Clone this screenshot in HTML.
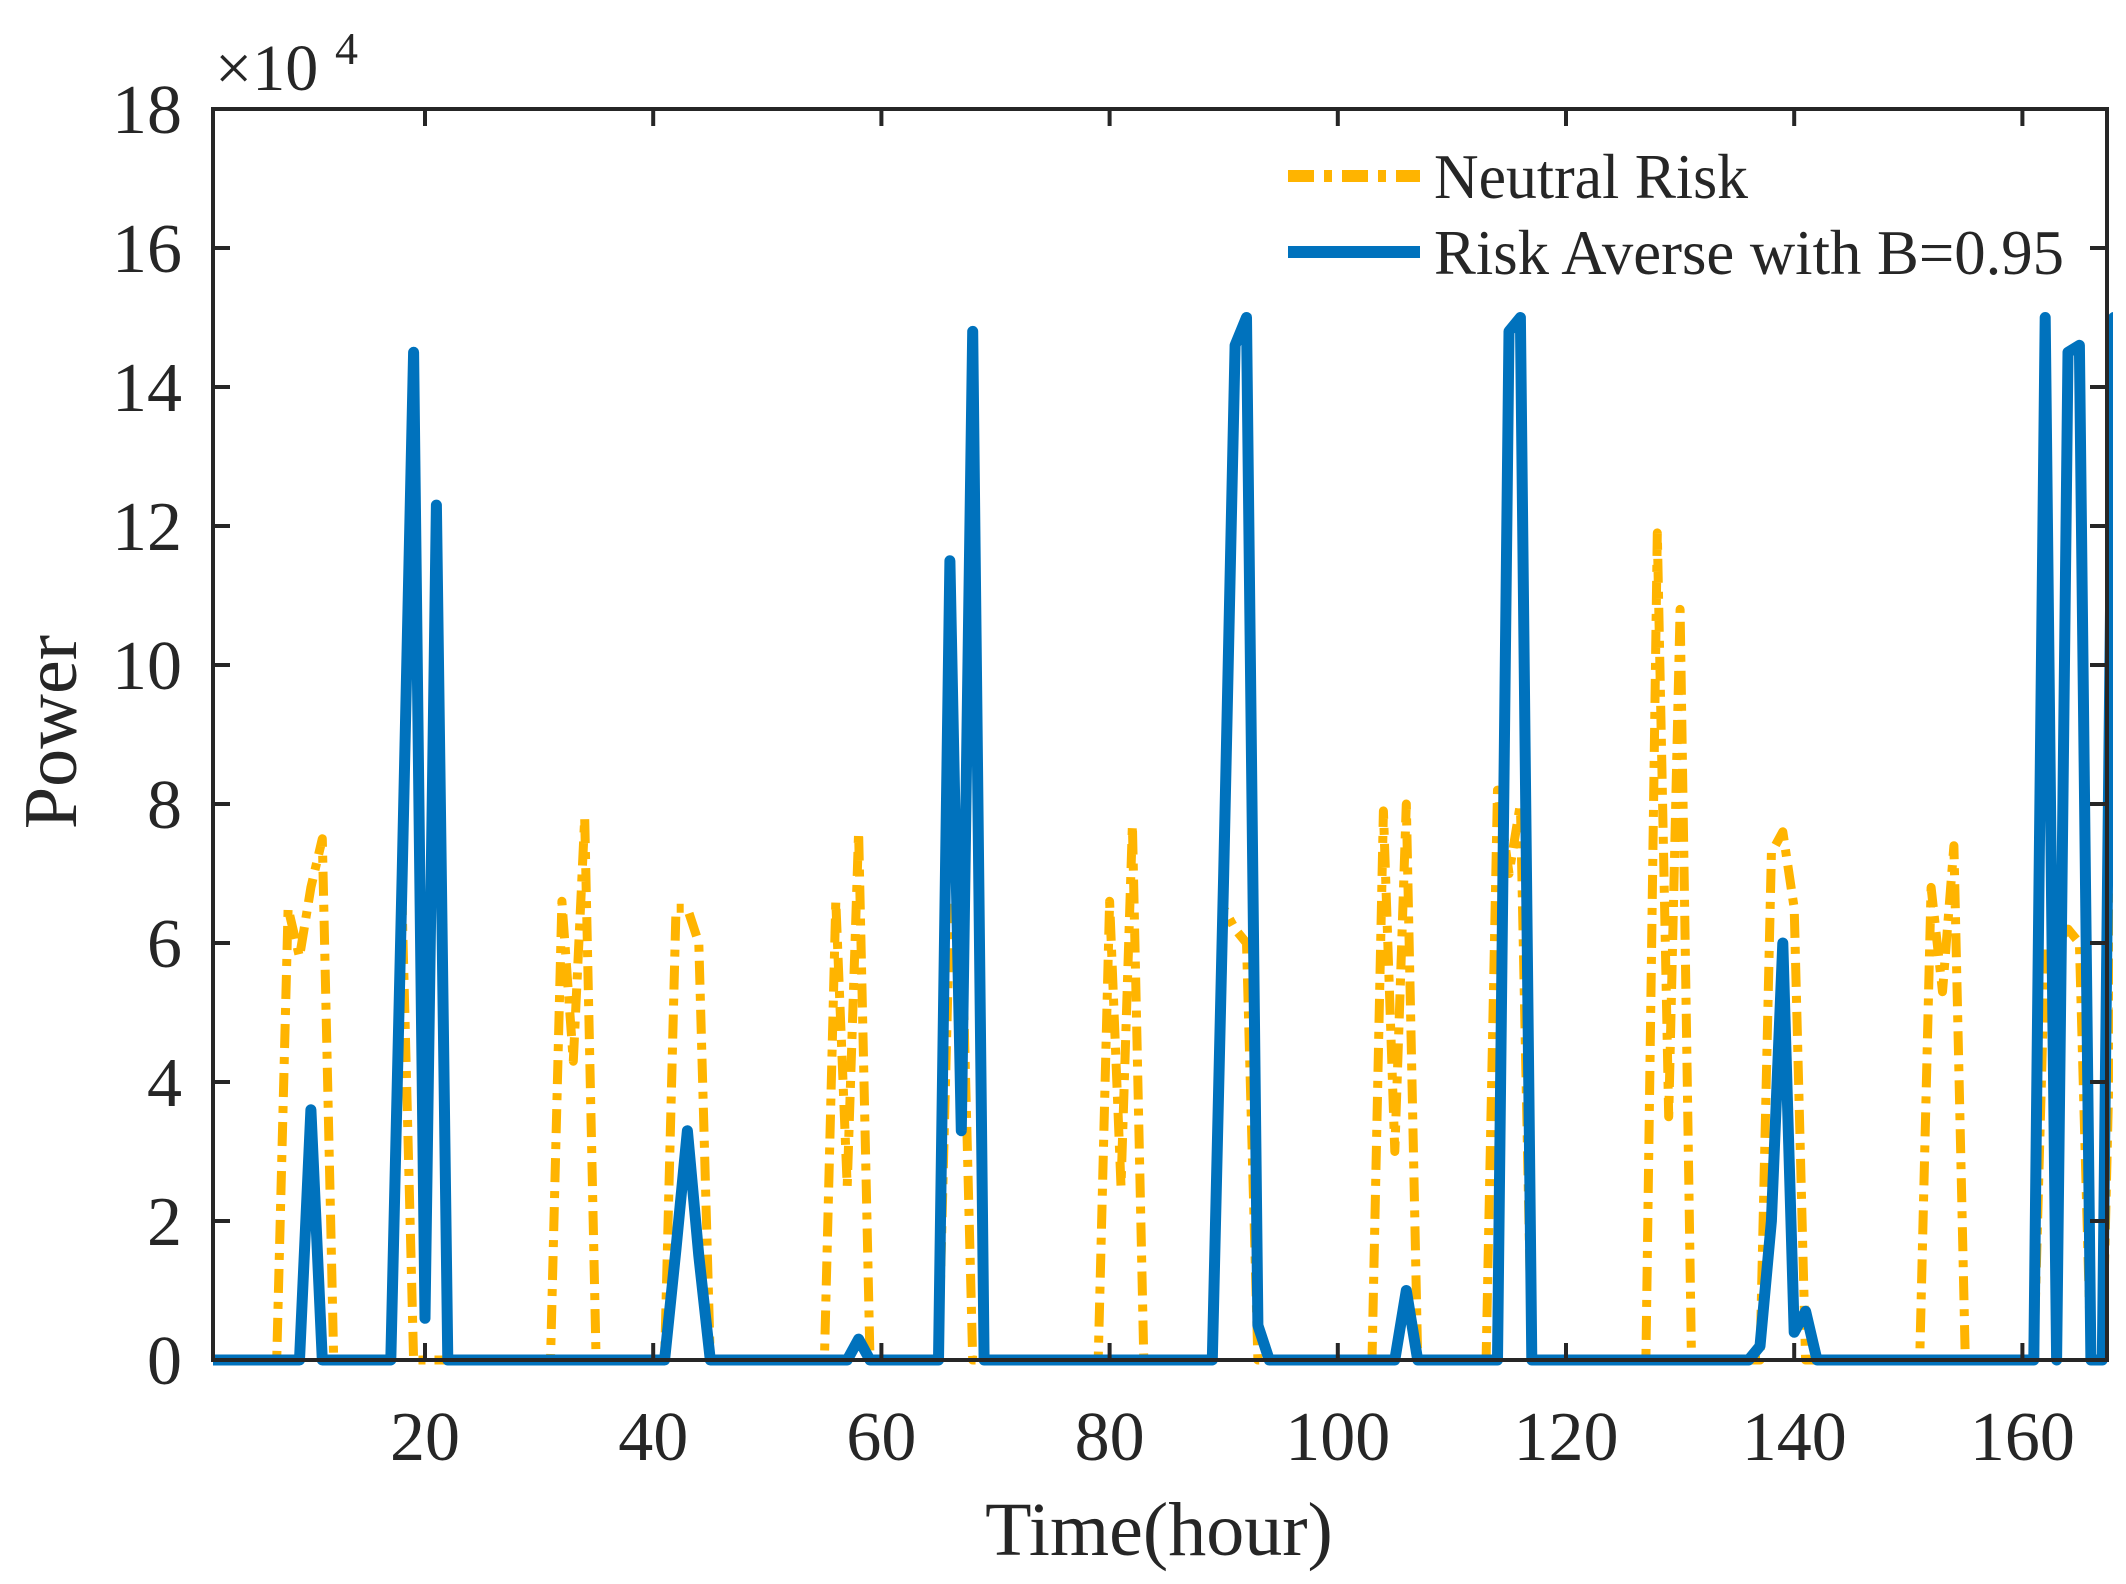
<!DOCTYPE html>
<html><head><meta charset="utf-8"><style>
html,body{margin:0;padding:0;background:#fff;}
svg{display:block;}
text{font-family:"Liberation Serif",serif;fill:#262626;}
</style></head><body>
<svg id="s" width="2126" height="1584" viewBox="0 0 2126 1584" xmlns="http://www.w3.org/2000/svg">
<defs><clipPath id="c"><rect x="213" y="100" width="1900" height="1275"/></clipPath></defs>
<g id="plot" clip-path="url(#c)"></g>
<rect x="213" y="109" width="1894" height="1251" fill="none" stroke="#262626" stroke-width="4"/>
<g id="ticks" stroke="#262626" stroke-width="4"></g>
<g font-size="70" text-anchor="end" id="yl"></g>
<g font-size="70" text-anchor="middle" id="xl"></g>
<text x="215" y="90" font-size="66">×10</text>
<text x="335" y="64" font-size="46">4</text>
<text x="1159" y="1555" font-size="76" text-anchor="middle">Time(hour)</text>
<text transform="translate(76,732) rotate(-90)" font-size="76" text-anchor="middle">Power</text>
<line x1="1288" y1="176" x2="1420" y2="176" stroke="#FFB400" stroke-width="12" stroke-dasharray="26,10,8,10"/>
<line x1="1288" y1="252" x2="1420" y2="252" stroke="#0072BD" stroke-width="12"/>
<text x="1434" y="198" font-size="64" textLength="314" lengthAdjust="spacingAndGlyphs">Neutral Risk</text>
<text x="1434" y="274" font-size="64" textLength="630" lengthAdjust="spacingAndGlyphs">Risk Averse with B=0.95</text>
</svg>
<script>
const X=h=>425+(h-20)*11.41, Y=v=>1360-v*69.5;
const NS="http://www.w3.org/2000/svg";
function mk(t,a,p){const e=document.createElementNS(NS,t);for(const k in a)e.setAttribute(k,a[k]);p.appendChild(e);return e;}
const plot=document.getElementById('plot'),tk=document.getElementById('ticks');
const o={8:6.5,9:5.8,10:6.8,11:7.5,18:6.5,32:6.6,33:4.3,34:7.8,42:6.5,43:6.5,44:6,56:6.6,57:2.5,58:7.6,66:6.5,67:6.5,80:6.6,81:2.5,82:7.7,90:6.5,91:6.2,92:6,104:7.9,105:3,106:8,114:8.2,115:7,116:8,128:11.9,129:3.5,130:10.8,138:7.3,139:7.6,140:6.5,152:6.8,153:5.3,154:7.4,162:6,163:6,164:6.2,165:6,168:7};
const b={10:3.6,18:7,19:14.5,20:0.6,21:12.3,42:1.6,43:3.3,44:1.5,58:0.3,66:11.5,67:3.3,68:14.8,90:7,91:14.6,92:15,93:0.5,106:1.0,115:14.8,116:15,137:0.2,138:2,139:6,140:0.4,141:0.7,162:15,163:0,164:14.5,165:14.6,168:15};
function pts(d){let s=[];for(let h=0;h<=169;h++)s.push(X(h).toFixed(1)+","+Y(d[h]||0).toFixed(1));return s.join(" ");}
mk('polyline',{points:pts(o),fill:'none',stroke:'#FFB400','stroke-width':9,'stroke-dasharray':'24,9,7,9','stroke-linejoin':'round'},plot);
mk('polyline',{points:pts(b),fill:'none',stroke:'#0072BD','stroke-width':11,'stroke-linejoin':'round'},plot);
const yl=document.getElementById('yl'),xl=document.getElementById('xl');
for(let v=0;v<=18;v+=2){const y=Y(v);mk('line',{x1:213,y1:y,x2:230,y2:y},tk);mk('line',{x1:2107,y1:y,x2:2090,y2:y},tk);mk('text',{x:182,y:y+24},yl).textContent=v;}
for(let h=20;h<=160;h+=20){const x=X(h);mk('line',{x1:x,y1:1360,x2:x,y2:1343},tk);mk('line',{x1:x,y1:109,x2:x,y2:126},tk);mk('text',{x:x,y:1460},xl).textContent=h;}
</script>
</body></html>
